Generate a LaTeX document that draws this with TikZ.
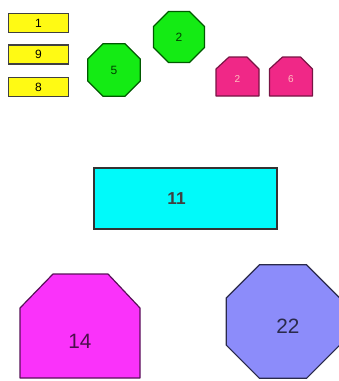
\documentclass[tikz,border=0pt]{standalone}
\usepackage{fontspec}
\setmainfont{Liberation Sans}
\usetikzlibrary{shapes.geometric}
\definecolor{boxyellow}{RGB}{255,250,20}
\definecolor{octgreen}{RGB}{20,235,20}
\definecolor{tabpink}{RGB}{240,40,135}
\definecolor{barcyan}{RGB}{0,250,250}
\definecolor{tabmagenta}{RGB}{250,50,250}
\definecolor{octblue}{RGB}{140,140,250}

\begin{document}
\begin{tikzpicture}[x=1pt,y=-1pt,
  piece/.style={draw,line width=1.2pt,inner sep=0pt,outer sep=0pt},
  tag/.style={piece,rectangle,fill=boxyellow,draw=black!75,minimum width=60pt,minimum height=19pt,font=\large},
  octa/.style={piece,regular polygon,regular polygon sides=8},
  tabspot/.style={rectangle,inner sep=0pt,outer sep=0pt},
  taboutline/.style={line width=1.2pt,line join=round}]
\useasboundingbox (0,0) rectangle (339,381);
% small boxes on the left
\node[tag] (t1) at (38.5,23) {1};
\node[tag] (t9) at (38.5,54.5) {9};
\node[tag] (t8) at (38.5,87) {8};
% green octagons
\node[octa,fill=octgreen,draw=green!35!black,minimum size=57pt,font=\large,text=green!25!black] (o5) at (114,70) {5};
\node[octa,fill=octgreen,draw=green!35!black,minimum size=55pt,font=\large,text=green!25!black] (o2) at (179,37) {2};
% pink tabs
\node[tabspot,minimum width=43pt,minimum height=39pt] (p2) at (237.5,76.5) {};
\node[tabspot,minimum width=43pt,minimum height=39pt] (p6) at (291,76.5) {};
\foreach \t in {p2,p6}
  \draw[taboutline,fill=tabpink,draw=tabpink!50!black] (\t.south west) -- ([yshift=-12pt]\t.north west)
    -- ([xshift=13pt]\t.north west) -- ([xshift=-12pt]\t.north east)
    -- ([yshift=-12pt]\t.north east) -- (\t.south east) -- cycle;
\node[font=\normalsize,text=pink] at ([yshift=-3pt]p2.center) {2};
\node[font=\normalsize,text=pink] at ([yshift=-3pt]p6.center) {6};
% wide bar
\node[piece,rectangle,fill=barcyan,draw=black!80,minimum width=183pt,minimum height=61pt,
  label={[xshift=-9pt,font=\LARGE\bfseries,text=black!75]center:11}] (b11) at (185.5,198.5) {};
% big shapes at the bottom
\node[tabspot,minimum width=120pt,minimum height=104pt] (m14) at (80,326) {};
\draw[taboutline,fill=tabmagenta,draw=tabmagenta!35!black] (m14.south west) -- ([yshift=-34pt]m14.north west)
  -- ([xshift=33pt]m14.north west) -- ([xshift=-32pt]m14.north east)
  -- ([yshift=-34pt]m14.north east) -- (m14.south east) -- cycle;
\node[font=\huge,text=tabmagenta!30!black] at ([yshift=-15pt]m14.center) {14};
\node[octa,fill=octblue,draw=octblue!30!black,minimum size=123pt,
  label={[xshift=5pt,yshift=-5pt,font=\huge,text=octblue!30!black]center:22}] (o22) at (283,321.5) {};
\end{tikzpicture}
\end{document}
